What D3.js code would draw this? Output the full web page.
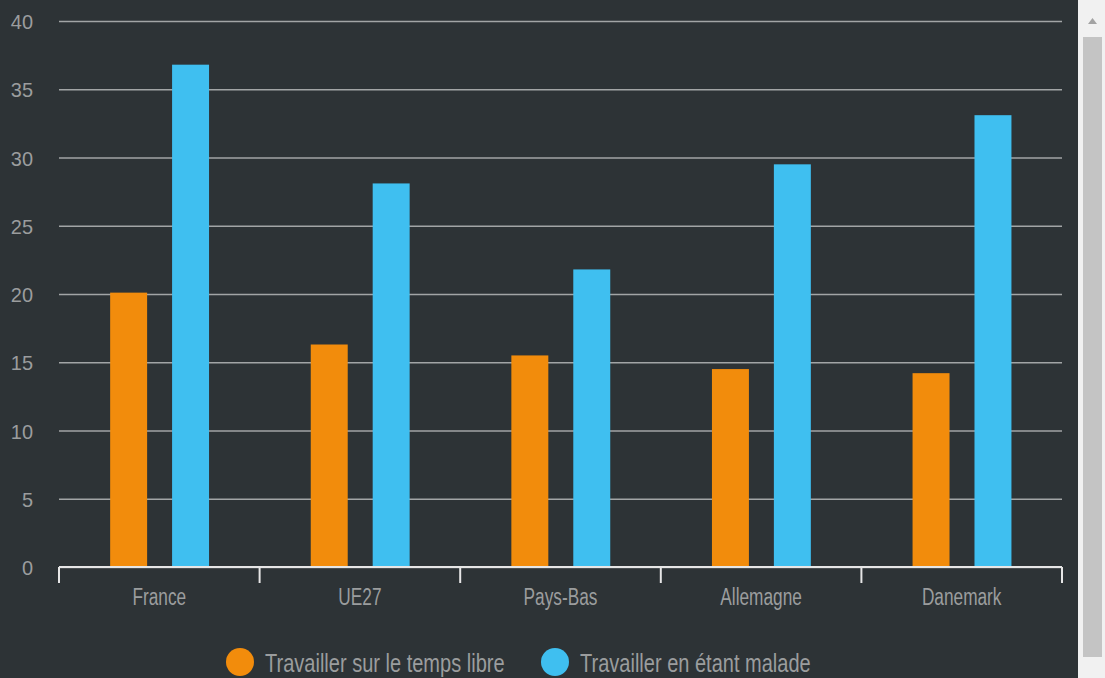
<!DOCTYPE html>
<html><head><meta charset="utf-8">
<script src="https://cdn.jsdelivr.net/npm/d3@7"></script>
<style>
html,body{margin:0;padding:0;background:#2d3336;overflow:hidden;}
svg{display:block;}
text{font-family:"Liberation Sans",Arial,sans-serif;}
</style></head>
<body>
<svg id="chart" width="1105" height="678"></svg>
<script>
const categories = ["France", "UE27", "Pays-Bas", "Allemagne", "Danemark"];
const seriesNames = ["Travailler sur le temps libre", "Travailler en étant malade"];
const freeTime = [20.1, 16.3, 15.5, 14.5, 14.2];
const sick = [36.8, 28.1, 21.8, 29.5, 33.1];
const yTicks = [0, 5, 10, 15, 20, 25, 30, 35, 40];
const colors = ["#f28c0c", "#3fbff0"];

const svg = d3.select("#chart");
const W = 1105, H = 678;
const m = {left: 59, right: 1062, top: 21, bottom: 567};

function condense(sel, f) {
  sel.each(function() {
    const w = this.getComputedTextLength();
    d3.select(this).attr("textLength", w * f).attr("lengthAdjust", "spacingAndGlyphs");
  });
}

svg.append("rect").attr("width", W).attr("height", H).attr("fill", "#2d3336");

const x = d3.scaleBand().domain(categories).range([m.left, m.right]);
const y = d3.scaleLinear().domain([0, 40]).range([m.bottom, m.top]);
const bw = x.bandwidth();
const x1 = d3.scaleBand().domain([0, 1]).range([bw * 0.255, bw * 0.748]).paddingInner(0.403);

// gridlines
const gy = svg.append("g")
  .attr("transform", `translate(${m.left},0)`)
  .call(d3.axisLeft(y).tickValues(yTicks).tickSize(-(m.right - m.left)).tickFormat(""));
gy.select(".domain").remove();
gy.selectAll(".tick line").attr("stroke", "#a2a5a6").attr("stroke-width", 1.3);

// y labels
const yl = svg.append("g").attr("transform", "translate(33,0)")
  .call(d3.axisLeft(y).tickValues(yTicks).tickSize(0).tickPadding(0));
yl.select(".domain").remove();
yl.selectAll("text").attr("fill", "#9b9d9e").attr("font-size", 21).attr("dy", "0.36em");
condense(yl.selectAll("text"), 0.95);

// bars
const data = categories.map((c, i) => ({c, vals: [freeTime[i], sick[i]]}));
const grp = svg.append("g").selectAll("g").data(data).join("g")
  .attr("transform", d => `translate(${x(d.c)},0)`);
grp.selectAll("rect").data(d => d.vals.map((v, k) => ({v, k}))).join("rect")
  .attr("x", d => x1(d.k))
  .attr("width", x1.bandwidth())
  .attr("y", d => y(d.v))
  .attr("height", d => y(0) - y(d.v))
  .attr("fill", d => colors[d.k]);

// x axis
const xa = svg.append("g").attr("transform", `translate(0,${m.bottom})`)
  .call(d3.axisBottom(x).tickSize(0).tickPadding(0));
xa.select(".domain").attr("stroke", "#e6e6e6").attr("stroke-width", 2)
  .attr("d", `M${m.left},0H${m.right}`);
xa.selectAll("text").attr("fill", "#9b9d9e").attr("font-size", 23).attr("dy", null).attr("y", 38);
condense(xa.selectAll("text"), 0.75);
const edges = categories.map(c => x(c)).concat([x.range()[1]]);
xa.selectAll(".edge").data(edges).join("line").attr("class", "edge")
  .attr("x1", d => d).attr("x2", d => d).attr("y1", 0).attr("y2", 16)
  .attr("stroke", "#e6e6e6").attr("stroke-width", 2);

// legend
const legend = svg.append("g");
const legX = [240, 555];
seriesNames.forEach((n, i) => {
  legend.append("circle").attr("cx", legX[i]).attr("cy", 662).attr("r", 14).attr("fill", colors[i]);
  const t = legend.append("text").attr("x", legX[i] + 25).attr("y", 672).attr("fill", "#9b9d9e")
    .attr("font-size", 26).text(n);
  condense(t, 0.77);
});

// scrollbar
const sb = svg.append("g");
sb.append("rect").attr("x", 1078).attr("y", 0).attr("width", 27).attr("height", H).attr("fill", "#f1f1f1");
sb.append("rect").attr("x", 1083).attr("y", 37).attr("width", 19).attr("height", 620).attr("fill", "#c4c4c4");
sb.append("path").attr("d", "M1088,24L1097,24L1092.5,18Z").attr("fill", "#a3a3a3");
</script>
</body></html>
